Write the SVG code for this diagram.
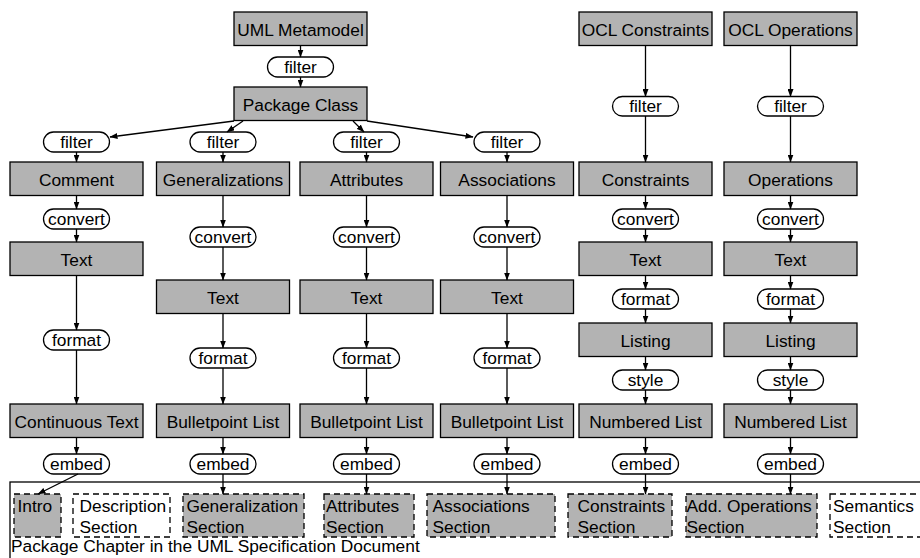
<svg xmlns="http://www.w3.org/2000/svg" width="920" height="558" viewBox="0 0 920 558">
<style>
.box{fill:#b3b3b3;stroke:#000;stroke-width:1.3}
.pill{fill:#fff;stroke:#000;stroke-width:1.3}
.sec{fill:#b3b3b3;stroke:#000;stroke-width:1.3;stroke-dasharray:6 4}
.secw{fill:#fff;stroke:#000;stroke-width:1.3;stroke-dasharray:6 4}
.frame{fill:#fff;stroke:#000;stroke-width:1.3}
text{font-family:"Liberation Sans",Arial,Helvetica,sans-serif;font-size:17.33px;fill:#000}
.c{text-anchor:middle}
.e line{stroke:#000;stroke-width:1.3;marker-end:url(#ah)}
</style>
<defs>
<marker id="ah" markerUnits="userSpaceOnUse" markerWidth="8" markerHeight="6" refX="7.5" refY="3" orient="auto">
<path d="M0,0 L8,3 L0,6 z" fill="#000"/>
</marker>
</defs>
<rect width="920" height="558" fill="#fff"/>

<g id="chapter">
<rect class="frame" x="10" y="482" width="930" height="100"/>
<text x="11" y="552">Package Chapter in the UML Specification Document</text>
</g>

<g id="sec-intro"><rect class="sec" x="14" y="494" width="47" height="43"/><text x="17.5" y="512">Intro</text></g>
<g id="sec-description"><rect class="secw" x="73" y="494" width="97" height="43"/><text x="79.5" y="512">Description</text><text x="79.5" y="533">Section</text></g>
<g id="sec-generalization"><rect class="sec" x="183" y="494" width="121" height="43"/><text x="186.5" y="512">Generalization</text><text x="186.5" y="533">Section</text></g>
<g id="sec-attributes"><rect class="sec" x="324" y="494" width="90" height="43"/><text x="326" y="512">Attributes</text><text x="326" y="533">Section</text></g>
<g id="sec-associations"><rect class="sec" x="427" y="494" width="128" height="43"/><text x="432.5" y="512">Associations</text><text x="432.5" y="533">Section</text></g>
<g id="sec-constraints"><rect class="sec" x="568" y="494" width="104" height="43"/><text x="577.5" y="512">Constraints</text><text x="577.5" y="533">Section</text></g>
<g id="sec-addops"><rect class="sec" x="686" y="494" width="131" height="43"/><text x="686.5" y="512">Add. Operations</text><text x="686.5" y="533">Section</text></g>
<g id="sec-semantics"><rect class="secw" x="830" y="494" width="120" height="43"/><text x="833" y="512">Semantics</text><text x="833" y="533">Section</text></g>

<g id="uml-metamodel"><rect class="box" x="234" y="12" width="133" height="33.5"/><text class="c" x="300.5" y="35.5">UML Metamodel</text></g>
<g id="package-class"><rect class="box" x="234" y="87" width="133" height="33.5"/><text class="c" x="300.5" y="110.5">Package Class</text></g>
<g id="ocl-constraints"><rect class="box" x="579" y="12" width="133" height="33.5"/><text class="c" x="645.5" y="35.5">OCL Constraints</text></g>
<g id="ocl-operations"><rect class="box" x="724" y="12" width="133" height="33.5"/><text class="c" x="790.5" y="35.5">OCL Operations</text></g>

<g id="comment"><rect class="box" x="10" y="162" width="133" height="33.5"/><text class="c" x="76.5" y="185.5">Comment</text></g>
<g id="generalizations"><rect class="box" x="156.5" y="162" width="133" height="33.5"/><text class="c" x="223" y="185.5">Generalizations</text></g>
<g id="attributes"><rect class="box" x="300" y="162" width="133" height="33.5"/><text class="c" x="366.5" y="185.5">Attributes</text></g>
<g id="associations"><rect class="box" x="440.5" y="162" width="133" height="33.5"/><text class="c" x="507" y="185.5">Associations</text></g>
<g id="constraints"><rect class="box" x="579" y="162" width="133" height="33.5"/><text class="c" x="645.5" y="185.5">Constraints</text></g>
<g id="operations"><rect class="box" x="724" y="162" width="133" height="33.5"/><text class="c" x="790.5" y="185.5">Operations</text></g>

<g id="text-1"><rect class="box" x="10" y="242" width="133" height="33.5"/><text class="c" x="76.5" y="265.5">Text</text></g>
<g id="text-2"><rect class="box" x="156.5" y="280" width="133" height="33.5"/><text class="c" x="223" y="303.5">Text</text></g>
<g id="text-3"><rect class="box" x="300" y="280" width="133" height="33.5"/><text class="c" x="366.5" y="303.5">Text</text></g>
<g id="text-4"><rect class="box" x="440.5" y="280" width="133" height="33.5"/><text class="c" x="507" y="303.5">Text</text></g>
<g id="text-5"><rect class="box" x="579" y="242" width="133" height="33.5"/><text class="c" x="645.5" y="265.5">Text</text></g>
<g id="text-6"><rect class="box" x="724" y="242" width="133" height="33.5"/><text class="c" x="790.5" y="265.5">Text</text></g>

<g id="listing-5"><rect class="box" x="579" y="323" width="133" height="33.5"/><text class="c" x="645.5" y="346.5">Listing</text></g>
<g id="listing-6"><rect class="box" x="724" y="323" width="133" height="33.5"/><text class="c" x="790.5" y="346.5">Listing</text></g>

<g id="continuous-text"><rect class="box" x="10" y="404" width="133" height="33.5"/><text class="c" x="76.5" y="427.5">Continuous Text</text></g>
<g id="bullet-2"><rect class="box" x="156.5" y="404" width="133" height="33.5"/><text class="c" x="223" y="427.5">Bulletpoint List</text></g>
<g id="bullet-3"><rect class="box" x="300" y="404" width="133" height="33.5"/><text class="c" x="366.5" y="427.5">Bulletpoint List</text></g>
<g id="bullet-4"><rect class="box" x="440.5" y="404" width="133" height="33.5"/><text class="c" x="507" y="427.5">Bulletpoint List</text></g>
<g id="numbered-5"><rect class="box" x="579" y="404" width="133" height="33.5"/><text class="c" x="645.5" y="427.5">Numbered List</text></g>
<g id="numbered-6"><rect class="box" x="724" y="404" width="133" height="33.5"/><text class="c" x="790.5" y="427.5">Numbered List</text></g>

<g id="filter-0"><rect class="pill" x="267.5" y="57" width="66" height="20" rx="10"/><text class="c" x="300.5" y="73">filter</text></g>
<g id="filter-1"><rect class="pill" x="43.5" y="132" width="66" height="20" rx="10"/><text class="c" x="76.5" y="148">filter</text></g>
<g id="filter-2"><rect class="pill" x="190" y="132" width="66" height="20" rx="10"/><text class="c" x="223" y="148">filter</text></g>
<g id="filter-3"><rect class="pill" x="333.5" y="132" width="66" height="20" rx="10"/><text class="c" x="366.5" y="148">filter</text></g>
<g id="filter-4"><rect class="pill" x="474" y="132" width="66" height="20" rx="10"/><text class="c" x="507" y="148">filter</text></g>
<g id="filter-5"><rect class="pill" x="612.5" y="96.5" width="66" height="19.5" rx="9.75"/><text class="c" x="645.5" y="112">filter</text></g>
<g id="filter-6"><rect class="pill" x="757.5" y="96.5" width="66" height="19.5" rx="9.75"/><text class="c" x="790.5" y="112">filter</text></g>

<g id="convert-1"><rect class="pill" x="43.5" y="209" width="66" height="20" rx="10"/><text class="c" x="76.5" y="225">convert</text></g>
<g id="convert-2"><rect class="pill" x="190" y="227" width="66" height="20" rx="10"/><text class="c" x="223" y="243">convert</text></g>
<g id="convert-3"><rect class="pill" x="333.5" y="227" width="66" height="20" rx="10"/><text class="c" x="366.5" y="243">convert</text></g>
<g id="convert-4"><rect class="pill" x="474" y="227" width="66" height="20" rx="10"/><text class="c" x="507" y="243">convert</text></g>
<g id="convert-5"><rect class="pill" x="612.5" y="209" width="66" height="20" rx="10"/><text class="c" x="645.5" y="225">convert</text></g>
<g id="convert-6"><rect class="pill" x="757.5" y="209" width="66" height="20" rx="10"/><text class="c" x="790.5" y="225">convert</text></g>

<g id="format-1"><rect class="pill" x="43.5" y="330" width="66" height="20" rx="10"/><text class="c" x="76.5" y="346">format</text></g>
<g id="format-2"><rect class="pill" x="190" y="348" width="66" height="20" rx="10"/><text class="c" x="223" y="364">format</text></g>
<g id="format-3"><rect class="pill" x="333.5" y="348" width="66" height="20" rx="10"/><text class="c" x="366.5" y="364">format</text></g>
<g id="format-4"><rect class="pill" x="474" y="348" width="66" height="20" rx="10"/><text class="c" x="507" y="364">format</text></g>
<g id="format-5"><rect class="pill" x="612.5" y="289" width="66" height="20" rx="10"/><text class="c" x="645.5" y="305">format</text></g>
<g id="format-6"><rect class="pill" x="757.5" y="289" width="66" height="20" rx="10"/><text class="c" x="790.5" y="305">format</text></g>

<g id="style-5"><rect class="pill" x="612.5" y="370" width="66" height="20" rx="10"/><text class="c" x="645.5" y="386">style</text></g>
<g id="style-6"><rect class="pill" x="757.5" y="370" width="66" height="20" rx="10"/><text class="c" x="790.5" y="386">style</text></g>

<g id="embed-1"><rect class="pill" x="43.5" y="454" width="66" height="20" rx="10"/><text class="c" x="76.5" y="470">embed</text></g>
<g id="embed-2"><rect class="pill" x="190" y="454" width="66" height="20" rx="10"/><text class="c" x="223" y="470">embed</text></g>
<g id="embed-3"><rect class="pill" x="333.5" y="454" width="66" height="20" rx="10"/><text class="c" x="366.5" y="470">embed</text></g>
<g id="embed-4"><rect class="pill" x="474" y="454" width="66" height="20" rx="10"/><text class="c" x="507" y="470">embed</text></g>
<g id="embed-5"><rect class="pill" x="612.5" y="454" width="66" height="20" rx="10"/><text class="c" x="645.5" y="470">embed</text></g>
<g id="embed-6"><rect class="pill" x="757.5" y="454" width="66" height="20" rx="10"/><text class="c" x="790.5" y="470">embed</text></g>

<g id="connectors" class="e">
<line x1="300.5" y1="45.5" x2="300.5" y2="57"/>
<line x1="300.5" y1="77" x2="300.5" y2="87"/>
<line x1="234" y1="121" x2="110" y2="137"/>
<line x1="243" y1="121" x2="227" y2="132"/>
<line x1="353" y1="121" x2="364" y2="132"/>
<line x1="367" y1="121" x2="473" y2="137"/>

<line x1="76.5" y1="152" x2="76.5" y2="162"/>
<line x1="76.5" y1="195.5" x2="76.5" y2="209"/>
<line x1="76.5" y1="229" x2="76.5" y2="242"/>
<line x1="76.5" y1="275.5" x2="76.5" y2="330"/>
<line x1="76.5" y1="350" x2="76.5" y2="404"/>
<line x1="76.5" y1="437.5" x2="76.5" y2="454"/>
<line x1="78" y1="474" x2="38" y2="494"/>

<line x1="223" y1="152" x2="223" y2="162"/>
<line x1="223" y1="195.5" x2="223" y2="227"/>
<line x1="223" y1="247" x2="223" y2="280"/>
<line x1="223" y1="313.5" x2="223" y2="348"/>
<line x1="223" y1="368" x2="223" y2="404"/>
<line x1="223" y1="437.5" x2="223" y2="454"/>
<line x1="223" y1="474" x2="223" y2="494"/>

<line x1="366.5" y1="152" x2="366.5" y2="162"/>
<line x1="366.5" y1="195.5" x2="366.5" y2="227"/>
<line x1="366.5" y1="247" x2="366.5" y2="280"/>
<line x1="366.5" y1="313.5" x2="366.5" y2="348"/>
<line x1="366.5" y1="368" x2="366.5" y2="404"/>
<line x1="366.5" y1="437.5" x2="366.5" y2="454"/>
<line x1="366.5" y1="474" x2="366.5" y2="494"/>

<line x1="507" y1="152" x2="507" y2="162"/>
<line x1="507" y1="195.5" x2="507" y2="227"/>
<line x1="507" y1="247" x2="507" y2="280"/>
<line x1="507" y1="313.5" x2="507" y2="348"/>
<line x1="507" y1="368" x2="507" y2="404"/>
<line x1="507" y1="437.5" x2="507" y2="454"/>
<line x1="507" y1="474" x2="507" y2="494"/>

<line x1="645.5" y1="45.5" x2="645.5" y2="96.5"/>
<line x1="645.5" y1="116" x2="645.5" y2="162"/>
<line x1="645.5" y1="195.5" x2="645.5" y2="209"/>
<line x1="645.5" y1="229" x2="645.5" y2="242"/>
<line x1="645.5" y1="275.5" x2="645.5" y2="289"/>
<line x1="645.5" y1="309" x2="645.5" y2="323"/>
<line x1="645.5" y1="356.5" x2="645.5" y2="370"/>
<line x1="645.5" y1="390" x2="645.5" y2="404"/>
<line x1="645.5" y1="437.5" x2="645.5" y2="454"/>
<line x1="645.5" y1="474" x2="645.5" y2="494"/>

<line x1="790.5" y1="45.5" x2="790.5" y2="96.5"/>
<line x1="790.5" y1="116" x2="790.5" y2="162"/>
<line x1="790.5" y1="195.5" x2="790.5" y2="209"/>
<line x1="790.5" y1="229" x2="790.5" y2="242"/>
<line x1="790.5" y1="275.5" x2="790.5" y2="289"/>
<line x1="790.5" y1="309" x2="790.5" y2="323"/>
<line x1="790.5" y1="356.5" x2="790.5" y2="370"/>
<line x1="790.5" y1="390" x2="790.5" y2="404"/>
<line x1="790.5" y1="437.5" x2="790.5" y2="454"/>
<line x1="790.5" y1="474" x2="790.5" y2="494"/>
</g>
</svg>
